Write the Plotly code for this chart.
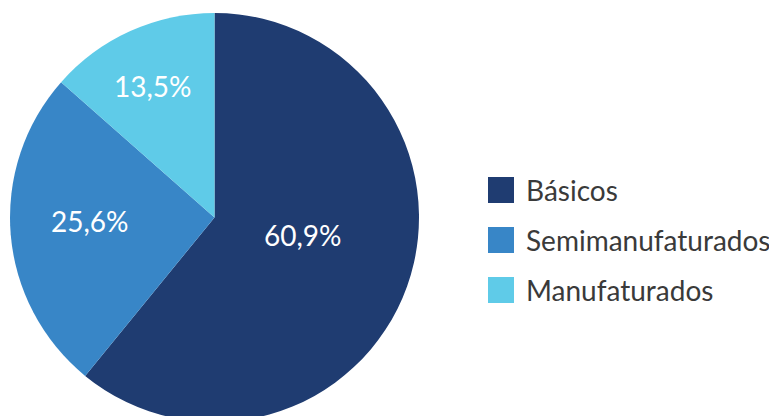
import math
import plotly.graph_objects as go

categories = ["Básicos", "Semimanufaturados", "Manufaturados"]
values = [60.9, 25.6, 13.5]
colors = ["#1F3C71", "#3886C7", "#5FCBE8"]

W, H = 777, 416
FONT = "Lato"
OFF = 8  # page body margin offset

# pie geometry (figure pixels)
CX, CY, R = 214.5 - OFF, 217.5 - OFF, 204.5

fig = go.Figure()
fig.add_trace(go.Pie(
    labels=categories,
    values=values,
    sort=False,
    direction="clockwise",
    rotation=0,
    marker=dict(colors=colors, line=dict(width=0)),
    textinfo="none",
    showlegend=False,
    hoverinfo="label+percent",
    domain=dict(x=[(CX - R) / W, (CX + R) / W],
                y=[(H - (CY + R)) / H, (H - (CY - R)) / H]),
))

# percentage labels placed along each slice (radius fraction, angle shift in deg)
label_style = [(0.44, -8.7), (0.607, 2.9), (0.709, -1.0)]
total = sum(values)
start = 0.0
for v, (rf, shift) in zip(values, label_style):
    span = 360.0 * v / total
    theta = math.radians(start + span / 2 + shift)
    start += span
    px = CX + rf * R * math.sin(theta)
    py = CY - rf * R * math.cos(theta)
    txt = f"{100 * v / total:.1f}%".replace(".", ",")
    fig.add_annotation(xref="paper", yref="paper", x=px / W, y=(H - py) / H,
                       xanchor="center", yanchor="middle", showarrow=False,
                       text=txt, font=dict(family=FONT, size=28, color="white"))

# custom legend (large square swatches)
y0 = 190 - OFF
step = 50
for i, (cat, col) in enumerate(zip(categories, colors)):
    yc = y0 + i * step
    fig.add_shape(type="rect", xref="paper", yref="paper",
                  x0=(488 - OFF) / W, x1=(514 - OFF) / W,
                  y0=(H - yc - 13) / H, y1=(H - yc + 13) / H,
                  fillcolor=col, line=dict(width=0))
    fig.add_annotation(xref="paper", yref="paper", x=(524 - OFF) / W, y=(H - yc) / H,
                       xanchor="left", yanchor="middle", showarrow=False,
                       text=cat, font=dict(family=FONT, size=28, color="#3A3A3A"))

fig.update_layout(
    width=W, height=H,
    margin=dict(l=0, r=0, t=0, b=0),
    paper_bgcolor="white",
    plot_bgcolor="white",
    separators=",.",
)
fig.write_html(
    "out.html",
    post_script="document.documentElement.style.overflow='hidden';"
                "document.body.style.overflow='hidden';",
)
